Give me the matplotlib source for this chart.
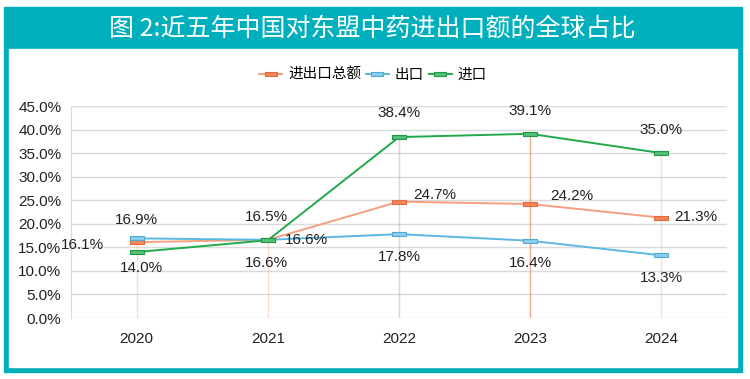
import matplotlib
matplotlib.use("Agg")
import matplotlib.pyplot as plt
from matplotlib.patches import Rectangle
from matplotlib.ticker import FuncFormatter

plt.rcParams['font.family'] = ['Liberation Sans', 'Noto Sans CJK SC']

years = ["2020", "2021", "2022", "2023", "2024"]
total = [16.1, 16.6, 24.7, 24.2, 21.3]    # 进出口总额
export = [16.9, 16.6, 17.8, 16.4, 13.3]   # 出口
imports = [14.0, 16.5, 38.4, 39.1, 35.0]  # 进口

title = "图 2:近五年中国对东盟中药进出口额的全球占比"
names = ["进出口总额", "出口", "进口"]

teal = "#00AFBC"
W, H = 750, 379

fig = plt.figure(figsize=(7.5, 3.79), dpi=100)

# outer frame + title bar
fig.patches.append(Rectangle((4 / W, 1 - 372 / H), 738 / W, 365 / H,
                             transform=fig.transFigure, color=teal, zorder=-2))
fig.patches.append(Rectangle((9 / W, 1 - 367 / H), 728 / W, 318 / H,
                             transform=fig.transFigure, color="white", zorder=-1))
fig.text(372 / W, 1 - 29 / H, title, color="white", fontsize=18,
         ha="center", va="center", family=['Noto Sans CJK SC'])

ax = fig.add_axes([71 / W, 1 - 318 / H, 656 / W, 212 / H])
ax.set_facecolor("none")
ax.set_zorder(2)
x = list(range(len(years)))

# drop lines from the highest point of each year
tops = [max(a, b, c) for a, b, c in zip(total, export, imports)]
drop_alpha = [0.3, 0.3, 0.45, 0.75, 0.3]
for xi, t, a in zip(x, tops, drop_alpha):
    ax.plot([xi, xi], [0, t / 100], color="#F08F66", lw=1.0, alpha=a, zorder=1)

rect = [(-1, -0.33), (1, -0.33), (1, 0.33), (-1, 0.33), (-1, -0.33)]
series = [
    (total, "#F4A07C", "#F2875A", "#E06A3A"),
    (export, "#5BB8E2", "#8CCDEB", "#4FAAD6"),
    (imports, "#22A94B", "#55C076", "#1C9A42"),
]
for (vals, lc, fc, ec), name in zip(series, names):
    ax.plot(x, [v / 100 for v in vals], color=lc, lw=1.4, marker=rect,
            markersize=10, markerfacecolor=fc, markeredgecolor=ec,
            markeredgewidth=0.8, label=name, zorder=3)

# label offsets in pixels (dx, dy, ha)
total_off = [(-33, -3, "right"), (17, 0, "left"), (14, 7, "left"), (20, 8, "left"), (13, 1, "left")]
export_off = [(0, 18, "center"), (-1, -23, "center"), (0, -23, "center"), (0, -22, "center"), (0, -23, "center")]
import_off = [(5, -16, "center"), (-1, 23, "center"), (0, 24, "center"), (0, 23, "center"), (0, 23, "center")]
for vals, offs in [(total, total_off), (export, export_off), (imports, import_off)]:
    for xi, v, (dx, dy, ha) in zip(x, vals, offs):
        ax.annotate(f"{v:.1f}%", (xi, v / 100), xytext=(dx, dy),
                    textcoords="offset pixels", ha=ha, va="center",
                    fontsize=11, color="#222222", zorder=4)

ax.set_xlim(-0.5, len(years) - 0.5)
ax.set_ylim(0, 0.45)
ax.set_yticks([i * 0.05 for i in range(10)])
ax.yaxis.set_major_formatter(FuncFormatter(lambda v, p: f"{v * 100:.1f}%"))
ax.set_xticks(x)
ax.set_xticklabels(years)
ax.tick_params(length=0, labelsize=11, colors="#222222")
ax.tick_params(axis="y", pad=7)
ax.tick_params(axis="x", pad=10)
ax.grid(axis="y", color="#DADADA", lw=1)
ax.set_axisbelow(True)
for s in ["top", "right", "bottom"]:
    ax.spines[s].set_visible(False)
ax.spines["left"].set_color("#DADADA")

fig.legend(loc="center", bbox_to_anchor=(373 / W, 1 - 75 / H), ncol=3,
           frameon=False, fontsize=10.5, handlelength=1.6, handletextpad=0.4,
           columnspacing=0.3, markerscale=0.8)

fig.savefig("out.png", dpi=100)
